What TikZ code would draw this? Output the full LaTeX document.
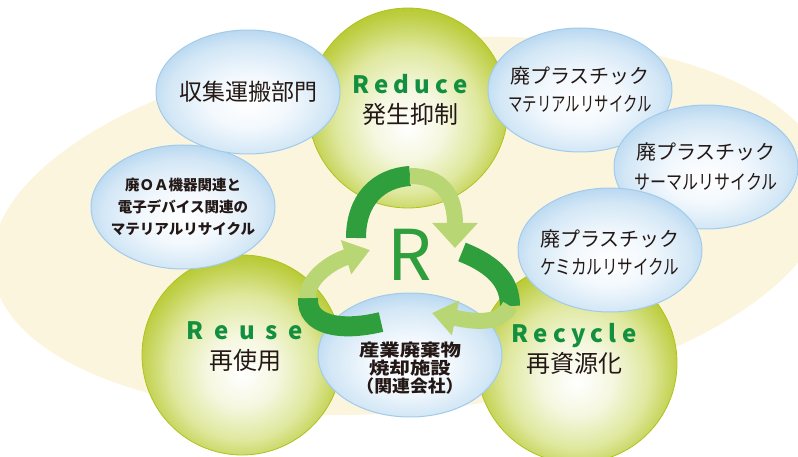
\documentclass[tikz,border=0pt]{standalone}
\usepackage{fontspec}
\usepackage{graphicx}
\setmainfont{Noto Sans CJK JP}
\newfontfamily\rfont{Noto Sans CJK JP}
\usetikzlibrary{
  arrows.meta,
  shapes.geometric,
}
\definecolor{beige}{HTML}{FCF5DE}
\definecolor{ink}{HTML}{231815}
\definecolor{rgreen}{HTML}{12903F}
\definecolor{darkband}{HTML}{2F9E3D}
\definecolor{lightband}{HTML}{B8D673}
\definecolor{spherelight}{HTML}{F5F7DF}
\definecolor{spheremid}{HTML}{DFE89E}
\definecolor{spheredeep}{HTML}{BCCD3F}
\definecolor{sphereedge}{HTML}{AFC21C}
\definecolor{bubblelight}{HTML}{F2F8FD}
\definecolor{bubblemid}{HTML}{D3E7F6}
\definecolor{bubbleedge}{HTML}{A2CBEB}
\pgfdeclareradialshading{sphereball}{\pgfpoint{0bp}{-5bp}}{%
  color(0bp)=(white); color(9bp)=(spherelight); color(18bp)=(spheremid);
  color(26bp)=(spheredeep); color(31bp)=(sphereedge); color(50bp)=(sphereedge)}
\pgfdeclareradialshading{bubbleball}{\pgfpoint{0bp}{-5bp}}{%
  color(0bp)=(white); color(11bp)=(bubblelight); color(22bp)=(bubblemid);
  color(32bp)=(bubbleedge); color(50bp)=(bubbleedge)}
\tikzset{
  sphere/.style={circle, minimum size=200pt, inner sep=0pt,
    shading=sphereball, draw=sphereedge, line width=0.8pt},
  bubble/.style={ellipse, minimum width=184pt, minimum height=124pt,
    inner sep=0pt, shading=bubbleball, draw=bubbleedge, line width=1pt},
  bubbletext/.style={align=center, text=ink, inner sep=0pt},
  spheretext/.style={align=center, text=ink, inner sep=0pt,
    font=\fontsize{24}{30}\selectfont},
  darkpart/.style={draw=darkband, line width=20pt},
  lightpart/.style={draw=lightband, line width=16pt},
}
\newcommand{\narrow}[2]{\scalebox{#1}[1]{#2}}
\newcommand{\engl}[2]{{\color{rgreen}\bfseries\addfontfeatures{LetterSpace=#1}#2}}

\begin{document}
\begin{tikzpicture}[x=1pt,y=-1pt]
  \useasboundingbox (0,0) rectangle (798,457);
  \fill[beige, rotate around={6:(410,226)}] (410,226) ellipse [x radius=420, y radius=185];

  % spheres
  \node[sphere] (reduce) at (408,108) {};
  \node[sphere] (reuse) at (242,355) {};
  \node[sphere] (recycle) at (577,363) {};

  \node[spheretext] (reducetxt) at (410,100) {\engl{22}{Reduce}\\発生抑制};
  \node[spheretext] (reusetxt) at (245,347) {\engl{45}{Reuse}\\再使用};
  \node[spheretext] (recycletxt) at (574,349) {\engl{22}{Recycle}\\再資源化};

  % bubbles
  \node[bubble] (oa) at (183,207) {};
  \node[bubble] (collect) at (248,92) {};
  \node[bubble] (material) at (580,90) {};
  \node[bubble] (thermal) at (706,167) {};
  \node[bubble] (chemical) at (610,250) {};
  \node[bubble] (plant) at (410,355) {};

  \node[bubbletext, font=\bfseries\fontsize{14.5}{22}\selectfont] (oatxt) at (oa)
    {廃ＯＡ機器関連と\\電子デバイス関連の\\マテリアルリサイクル};
  \node[bubbletext, font=\fontsize{23}{27}\selectfont] (collecttxt) at (collect) {収集運搬部門};
  \node[bubbletext, font=\fontsize{20}{28}\selectfont] (materialtxt) at (material)
    {廃プラスチック\\\narrow{0.72}{マテリアルリサイクル}};
  \node[bubbletext, font=\fontsize{20}{30}\selectfont] (thermaltxt) at (thermal)
    {廃プラスチック\\\narrow{0.8}{サーマルリサイクル}};
  \node[bubbletext, font=\fontsize{20}{28}\selectfont] (chemicaltxt) at ([yshift=-3pt]chemical)
    {廃プラスチック\\\narrow{0.78}{ケミカルリサイクル}};
  \node[bubbletext, font=\bfseries\fontsize{17}{18}\selectfont] (planttxt) at (410,368)
    {\narrow{1.2}{産業廃棄物}\\\narrow{1.2}{焼却施設}\\\narrow{1.05}{（関連会社）}};

  % recycling arrows
  \coordinate (top) at (410,176);
  \coordinate (rgt) at (510,306);
  \coordinate (lft) at (308,298);
  \draw[darkpart] (356,238) .. controls (356,200) and (378,178) .. (top);
  \draw[lightpart, -{Triangle[width=44pt,length=25pt]}]
    (top) .. controls (442,176) and (455,195) .. (455,248);
  \draw[darkpart] (462,252) .. controls (495,265) and (510,282) .. (rgt);
  \draw[lightpart, -{Triangle[width=34pt,length=24pt]}]
    (rgt) .. controls (500,325) and (475,322) .. (432,313);
  \draw[darkpart] (381,322) .. controls (340,332) and (306,325) .. (lft);
  \draw[lightpart, -{Triangle[width=34pt,length=25pt]}]
    (lft) .. controls (306,280) and (330,262) .. (370,250);

  \node[text=darkband, font=\rfont\fontsize{70}{70}\selectfont, inner sep=0pt] (rmark) at (410,255) {R};
\end{tikzpicture}
\end{document}
